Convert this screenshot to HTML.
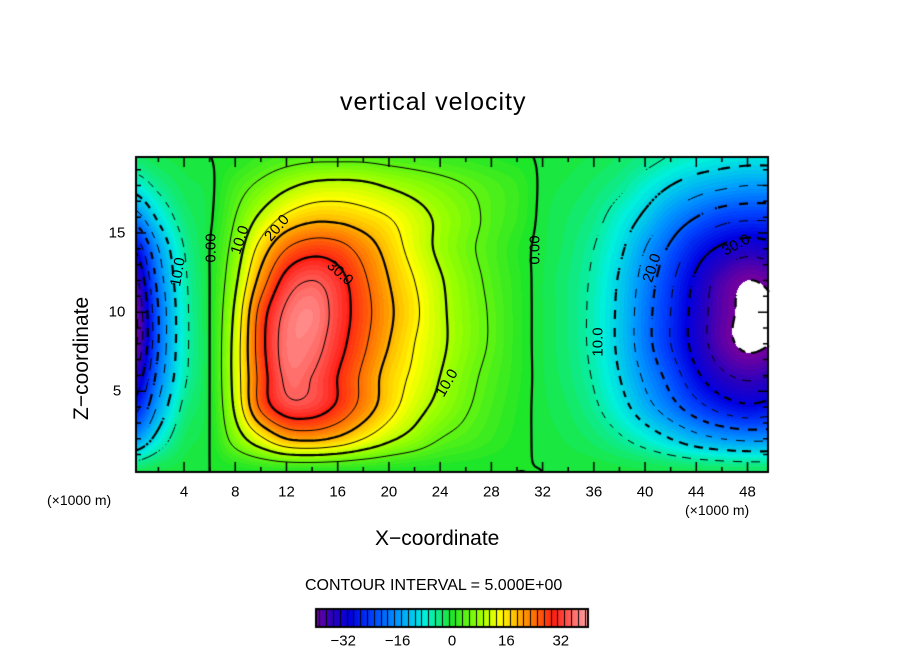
<!DOCTYPE html>
<html><head><meta charset="utf-8">
<style>
body{margin:0;background:#fff;width:904px;height:654px;overflow:hidden;position:relative;font-family:"Liberation Sans",sans-serif;}
.t{position:absolute;color:#000;white-space:nowrap;}
canvas{position:absolute;left:0;top:0;}
</style></head>
<body>
<canvas id="c" width="904" height="654"></canvas>
<div class="t" style="left:340px;top:88px;font-size:25px;letter-spacing:1px;">vertical velocity</div>
<div class="t" style="left:375px;top:527px;font-size:21px;">X−coordinate</div>
<div class="t" style="left:70px;top:420px;font-size:21px;transform:rotate(-90deg);transform-origin:0 0;">Z−coordinate</div>
<div class="t" style="left:47px;top:492px;font-size:14px;">(×1000 m)</div>
<div class="t" style="left:685px;top:502px;font-size:14px;">(×1000 m)</div>
<div class="t" style="left:305px;top:577px;font-size:16px;">CONTOUR INTERVAL = 5.000E+00</div>
<div id="labels"></div>
<script>
const xs=[0,2,4,6,8,10,12,14,16,18,20,22,24,26,28,30,32,34,36,38,40,42,44,46,48,50];
const zs=[0,2,4,6,8,10,12,14,16,18,20];
const w0=[-2,-1,-0.5,0,0.4,1,1.2,1.2,1,0.8,0.6,0.4,0.3,0.2,0.1,0,0,-0.2,-0.3,-0.6,-0.9,-1.3,-1.7,-2,-2.2,-2.1];
const w2=[-16,-8,-2,0,7,14,20,21,19,15,11,8,5,3.5,2,0.6,-0.4,-1.2,-2.4,-4.4,-7,-10,-13,-15,-16,-16];
const w4=[-28,-14,-4,0,11,26,33,33,29,23,17,12,8.5,5.5,3,1,-0.7,-2,-4.3,-8,-13,-18,-23,-27,-29,-28];
const w6=[-36,-18,-6,0,12,27,36,35,30,24,18,14,10,6.5,3.7,1.4,-0.9,-2.7,-5.4,-10,-16,-22,-29,-34,-36,-35];
const w8=[-42,-20,-6.5,0,12,28,37,37,32,26,20,15,11,7.5,4.5,1.5,-1,-3,-6,-11,-18,-25,-32,-38,-41,-40];
const w10=[-42,-20,-6.5,0,11,27,36,38,33,27,21,16,11,7.5,4.5,1.5,-1,-3,-6,-11,-18,-25,-32,-38,-41,-40];
const w12=[-38,-18,-6,0,9,22,32,35,32,26,20,15,10.5,7,4,1.4,-1,-3,-5.7,-10.5,-17,-24,-31,-37,-40,-39];
const w14=[-30,-15,-5,0,7,17,25,28,27,23,18,13,9,6,3.5,1.1,-0.8,-2.5,-5,-9,-15,-21,-27,-31,-33,-32];
const w16=[-18,-9,-3,-0.5,5,11,16,18.5,18.5,17,15,12,9,6.5,4,2,-0.6,-2,-3.7,-7,-11,-16,-20,-23,-24,-24];
const w18=[-8,-4,-1.5,-0.5,3,6,9,11,11.5,11,9.5,8,6.5,5,3.5,2,-0.4,-1.2,-2.3,-4,-7,-10,-12.5,-14,-15,-15];
const w20=[-2,-1,-0.5,0,0.5,2,3,3.5,3.5,3.5,3,2.5,2,1.5,0.8,0.3,-0.2,-0.6,-1.1,-2,-3.3,-5,-6.5,-7.5,-8,-8];
const grid=[w0,w2,w4,w6,w8,w10,w12,w14,w16,w18,w20];
const xTicks=[4,8,12,16,20,24,28,32,36,40,44,48];
const zTicks=[5,10,15];
const cbTicks=[-32,-16,0,16,32];
const levels=[-40,-35,-30,-25,-20,-15,-10,-5,0,5,10,15,20,25,30,35];

const PL=136,PR=768,PT=157,PB=472;
const X0=0.25,X1=49.6,Z0=-0.1,Z1=19.8;
const sx=x=>PL+(x-X0)/(X1-X0)*(PR-PL);
const sz=z=>PB-(z-Z0)/(Z1-Z0)*(PB-PT);
const ix=px=>X0+(px-PL)/(PR-PL)*(X1-X0);
const iz=py=>Z0+(PB-py)/(PB-PT)*(Z1-Z0);

function cr(p0,p1,p2,p3,t){return p1+0.5*t*(p2-p0+t*(2*p0-5*p1+4*p2-p3+t*(3*(p1-p2)+p3-p0)));}
function g(i,j){i=Math.max(0,Math.min(zs.length-1,i));j=Math.max(0,Math.min(xs.length-1,j));return grid[i][j];}
function val(x,z){
  let fx=x/2,fz=z/2;fx=Math.max(0,Math.min(xs.length-1.0001,fx));fz=Math.max(0,Math.min(zs.length-1.0001,fz));
  const j=Math.floor(fx),i=Math.floor(fz),tx=fx-j,tz=fz-i;const r=[];
  for(let k=-1;k<3;k++)r.push(cr(g(i+k,j-1),g(i+k,j),g(i+k,j+1),g(i+k,j+2),tx));
  return cr(r[0],r[1],r[2],r[3],tz);
}
const stops=[[-40,[110,0,160]],[-35,[40,0,190]],[-30,[0,0,225]],[-23,[0,70,255]],[-16,[0,150,255]],[-8,[0,240,220]],[0,[30,230,40]],[8,[150,255,0]],[14,[255,255,0]],[22,[255,140,0]],[30,[255,30,20]],[40,[255,165,165]]];
function col(v){
  if(v<-40||v>40)return [255,255,255];
  for(let k=0;k<stops.length-1;k++){const a=stops[k],b=stops[k+1];if(v<=b[0]){const t=(v-a[0])/(b[0]-a[0]);return a[1].map((c,n)=>Math.round(c+(b[1][n]-c)*t));}}
  return stops[stops.length-1][1];
}
const c=document.getElementById('c'),ctx=c.getContext('2d');
const img=ctx.createImageData(PR-PL,PB-PT);
for(let py=PT;py<PB;py++)for(let px=PL;px<PR;px++){
  const v=val(ix(px+0.5),iz(py+0.5));const k=col(Math.floor(v));
  const o=((py-PT)*(PR-PL)+(px-PL))*4;img.data[o]=k[0];img.data[o+1]=k[1];img.data[o+2]=k[2];img.data[o+3]=255;}
ctx.putImageData(img,PL,PT);
const S=3,nx=Math.ceil((PR-PL)/S),nz=Math.ceil((PB-PT)/S);
const F=[];for(let a=0;a<=nz;a++){F.push([]);for(let b=0;b<=nx;b++)F[a].push(val(ix(PL+b*S),iz(PT+a*S)));}
levels.forEach(L=>{
  ctx.lineWidth=(L%10===0)?2.2:1;ctx.strokeStyle='#000';
  ctx.beginPath();
  for(let a=0;a<nz;a++)for(let b=0;b<nx;b++){
    if(L<0&&Math.floor((a+b)/3)%2===1)continue;
    const v=[F[a][b],F[a][b+1],F[a+1][b+1],F[a+1][b]];
    const P=[[b,a],[b+1,a],[b+1,a+1],[b,a+1]];const pts=[];
    for(let e=0;e<4;e++){const v1=v[e],v2=v[(e+1)%4];if((v1<L)!==(v2<L)){const t=(L-v1)/(v2-v1);const p1=P[e],p2=P[(e+1)%4];pts.push([PL+(p1[0]+t*(p2[0]-p1[0]))*S,PT+(p1[1]+t*(p2[1]-p1[1]))*S]);}}
    for(let k=0;k+1<pts.length;k+=2){ctx.moveTo(pts[k][0],pts[k][1]);ctx.lineTo(pts[k+1][0],pts[k+1][1]);}
  }
  ctx.stroke();
});
ctx.lineWidth=2;ctx.strokeRect(PL,PT,PR-PL,PB-PT);
ctx.lineWidth=1.5;ctx.beginPath();
for(let x=2;x<50;x+=2){const L=(x%4===0)?10:5;ctx.moveTo(sx(x),PB);ctx.lineTo(sx(x),PB-L);ctx.moveTo(sx(x),PT);ctx.lineTo(sx(x),PT+L);}
for(let z=1;z<20;z++){const L=(z%5===0)?10:5;ctx.moveTo(PL,sz(z));ctx.lineTo(PL+L,sz(z));ctx.moveTo(PR,sz(z));ctx.lineTo(PR-L,sz(z));}
ctx.stroke();
const CL=316,CR=588,CT=609,CB=627,cmin=-40,cmax=40;
const cbx=v=>CL+(v-cmin)/(cmax-cmin)*(CR-CL);
for(let px=CL;px<CR;px++){const v=cmin+(px-CL+0.5)/(CR-CL)*(cmax-cmin);const k=col(v);ctx.fillStyle=`rgb(${k})`;ctx.fillRect(px,CT,1,CB-CT);}
ctx.fillStyle='#000';for(let v=-39;v<40;v+=2){ctx.fillRect(Math.round(cbx(v)),CT,1,CB-CT);}
ctx.lineWidth=2;ctx.strokeRect(CL,CT,CR-CL,CB-CT);
const lab=document.getElementById('labels');
function addT(txt,x,y,fs,name,rot){const d=document.createElement('div');d.className='t';d.textContent=txt;
  
  
  d.style.left=x+'px';d.style.top=y+'px';d.style.fontSize=fs+'px';
  d.style.transform='translate(-50%,-50%)'+(rot?` rotate(${rot}deg)`:'');lab.appendChild(d);}
xTicks.forEach(x=>addT(String(x),sx(x),492,15,'x-tick-label',0));
zTicks.forEach(z=>addT(String(z),117,sz(z),15,'z-tick-label',0));
cbTicks.forEach(v=>addT(String(v).replace('-','−'),cbx(v),641,15,'colorbar-tick-label',0));
const cl=[["0.00",211,248,-90],["10.0",178,272,-80],["10.0",240,240,-72],["20.0",277,228,-50],["30.0",340,273,42],["0.00",535,250,-90],["10.0",447,383,-60],["10.0",598,342,-90],["20.0",652,268,-72],["30.0",736,245,-28]];
cl.forEach(a=>addT(a[0],a[1],a[2],15,'contour-label',a[3]));
</script>
</body></html>
